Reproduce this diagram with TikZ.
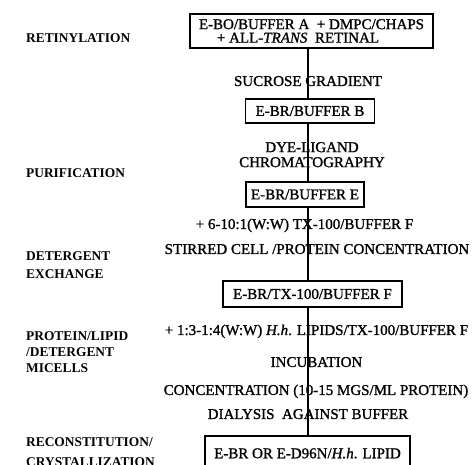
\documentclass[tikz,border=0pt]{standalone}
\usepackage{fontspec}
\setmainfont{Liberation Serif}
\newfontfamily\scanfont{Liberation Serif}[FakeBold=1.2]
\usetikzlibrary{positioning}

\begin{document}
\begin{tikzpicture}[x=1pt,y=-1pt,inner sep=0pt]
\tikzstyle{stage}=[anchor=north west, align=left, font={\fontsize{13.4}{16}\selectfont\bfseries}]
\tikzstyle{txt}=[anchor=base, font={\fontsize{15}{15}\selectfont\scanfont}]
\tikzstyle{box}=[rectangle, draw=black, line width=1.7pt, font={\fontsize{15}{13.5}\selectfont\scanfont}]
\tikzstyle{spine}=[line width=1.7pt]
\useasboundingbox (0,0) rectangle (472,465);
\clip (0,0) rectangle (472,465);
% stages on the left
\node[stage] (ret) at (26,33.5) {RETINYLATION};
\node[stage] (pur) at (26,168.5) {PURIFICATION};
\node[stage] (det) at (26,251.5) {DETERGENT\\[2pt]EXCHANGE};
\node[stage] (mic) at (26,331.5) {PROTEIN/LIPID\\/DETERGENT\\MICELLS};
\node[stage] (rec) at (26,437) {RECONSTITUTION/\\[4pt]CRYSTALLIZATION};
% boxes
\node[box,align=left,minimum width=243pt,minimum height=34pt] (bo) at (311.5,31)
  {E-BO/BUFFER A\ \ + DMPC/CHAPS\\\hspace*{18pt}+ ALL-\textit{TRANS}\ \ RETINAL};
\node[box,minimum width=129pt,minimum height=24pt] (brb) at (310,111) {E-BR/BUFFER B};
\node[box,minimum width=118pt,minimum height=25pt] (bre) at (305,194.5) {E-BR/BUFFER E};
\node[box,minimum width=179pt,minimum height=26pt] (brtx) at (312.5,294) {E-BR/TX-100/BUFFER F};
\node[box,anchor=north,minimum width=205pt,inner ysep=12pt,text depth=40pt] (lip) at (307.5,435)
  {E-BR OR E-D96N/\textit{H.h}. LIPID};
% steps between the boxes
\node[txt] (suc) at (308,86) {SUCROSE GRADIENT};
\node[txt,anchor=north,align=center] (dye) at (312,142) {DYE-LIGAND\\CHROMATOGRAPHY};
\node[txt] (tx) at (304.5,229) {+ 6-10:1(W:W) TX-100/BUFFER F};
\node[txt] (stir) at (317,254) {STIRRED CELL /PROTEIN CONCENTRATION};
\node[txt] (hh) at (316.5,335) {+ 1:3-1:4(W:W) \textit{H.h}. LIPIDS/TX-100/BUFFER F};
\node[txt] (inc) at (316.5,367) {INCUBATION};
\node[txt] (conc) at (316,395) {CONCENTRATION (10-15 MGS/ML PROTEIN)};
\node[txt] (dial) at (308,419) {DIALYSIS\ \ AGAINST BUFFER};
\coordinate (ax) at (308,0);
\path (ax |- bo.south) edge[spine] (ax |- brb.north);
\path (ax |- brb.south) edge[spine] (ax |- bre.north);
\path (ax |- bre.south) edge[spine] (ax |- brtx.north);
\path (ax |- brtx.south) edge[spine] (ax |- lip.north);
\end{tikzpicture}
\end{document}
